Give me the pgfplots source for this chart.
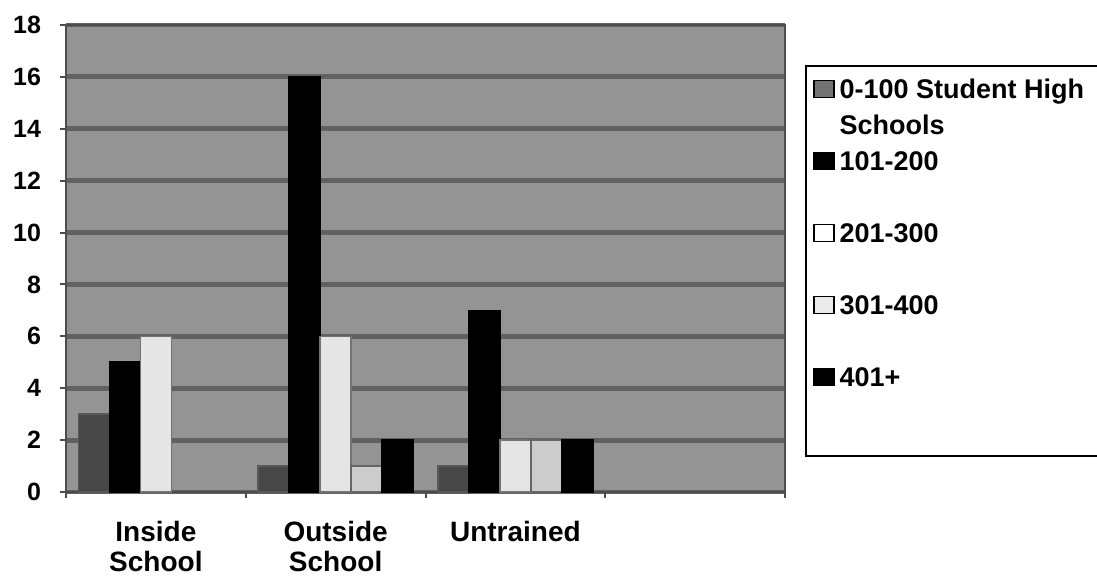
\documentclass[border=0pt]{standalone}
\usepackage{pgfplots}
\usepackage{pgfplotstable}
\pgfplotsset{compat=1.18}
\usepackage{fontspec}
\setmainfont{Liberation Sans}

\definecolor{panel}{gray}{0.58}
\definecolor{gridc}{gray}{0.38}
\definecolor{edgec}{gray}{0.30}
\definecolor{darkbar}{gray}{0.28}
\definecolor{lightbar}{gray}{0.90}
\definecolor{midbar}{gray}{0.80}

% training counts per school size (columns) for each group (rows)
\pgfplotstableread{
idx s0 s1 s2 s3 s4
0   3  5  6  0  0
1   1  16 6  1  2
2   1  7  2  2  2
}\trainingdata

\newcommand{\rowstrut}{\rule[-4.2pt]{0pt}{18pt}}

\begin{document}
\begin{tikzpicture}
\begin{axis}[
  at={(0,0)}, anchor=south west,
  scale only axis, width=359.5pt, height=233.5pt,
  xmin=-0.5, xmax=3.5, ymin=0, ymax=18,
  ytick={0,2,...,18},
  xtick={-0.5,0.5,1.5,2.5,3.5}, xticklabels={,,,,},
  extra x ticks={0,1,2},
  extra x tick labels={{Inside\\School},{Outside\\School},{Untrained}},
  extra x tick style={major tick length=0pt,
    xticklabel style={anchor=north, align=center, yshift=-11pt,
      font=\fontsize{14}{15}\selectfont\bfseries}},
  tick pos=left, tick align=outside, major tick length=3pt,
  tick style={edgec, line width=1pt},
  /pgf/number format/assume math mode=true,
  tick label style={font=\fontsize{12.5}{14}\selectfont\bfseries},
  yticklabel style={anchor=east, xshift=-6pt},
  ymajorgrids,
  major grid style={gridc, line width=2.4pt},
  axis background/.style={fill=panel},
  axis line style={edgec, line width=1.4pt},
  bar width=0.1725,
  unbounded coords=discard,
  legend cell align=left,
  legend image code/.code={\draw[#1] (0pt,-4.25pt) rectangle (10pt,4.25pt);},
  legend style={at={(1.0278,0.9143)}, anchor=north west,
    draw=black, line width=1.2pt, fill=white,
    inner xsep=3.5pt, inner ysep=2.5pt,
    nodes={inner sep=0pt, text depth=}, column sep=2.5pt, row sep=0pt,
    font=\fontsize{13.5}{15}\selectfont\bfseries},
]
\addplot[ybar, bar shift=-0.345, fill=darkbar, draw=black!65, line width=0.8pt, forget plot]
  table[x=idx, y=s0] {\trainingdata};
\addplot[ybar, bar shift=-0.1725, fill=black, draw=black, line width=0.8pt, forget plot]
  table[x=idx, y=s1] {\trainingdata};
\addplot[ybar, bar shift=0, fill=lightbar, draw=black!55, line width=0.8pt, forget plot]
  table[x=idx, y=s2] {\trainingdata};
% empty groups (count 0) are left without a bar
\addplot[ybar, bar shift=0.1725, fill=midbar, draw=black!60, line width=0.8pt, forget plot,
  y filter/.expression={y==0 ? nan : y}]
  table[x=idx, y=s3] {\trainingdata};
\addplot[ybar, bar shift=0.345, fill=black, draw=black, line width=0.8pt, forget plot,
  y filter/.expression={y==0 ? nan : y}]
  table[x=idx, y=s4] {\trainingdata};

\addlegendimage{fill=black!55, draw=black, line width=0.7pt}
\addlegendentry{\rowstrut\makebox[140pt][l]{0-100 Student High}}
\addlegendimage{empty legend}
\addlegendentry{\rowstrut Schools}
\addlegendimage{fill=black, draw=black, line width=0.7pt}
\addlegendentry{\rowstrut 101-200}
\addlegendimage{empty legend}
\addlegendentry{\rowstrut}
\addlegendimage{fill=white, draw=black, line width=0.7pt}
\addlegendentry{\rowstrut 201-300}
\addlegendimage{empty legend}
\addlegendentry{\rowstrut}
\addlegendimage{fill=black!8, draw=black, line width=0.7pt}
\addlegendentry{\rowstrut 301-400}
\addlegendimage{empty legend}
\addlegendentry{\rowstrut}
\addlegendimage{fill=black, draw=black, line width=0.7pt}
\addlegendentry{\rowstrut 401+}
\addlegendimage{empty legend}
\addlegendentry{\rule{0pt}{28pt}}
\end{axis}
\pgfresetboundingbox
\useasboundingbox (-33pt,-44pt) rectangle (515.5pt,246pt);
\end{tikzpicture}
\end{document}
